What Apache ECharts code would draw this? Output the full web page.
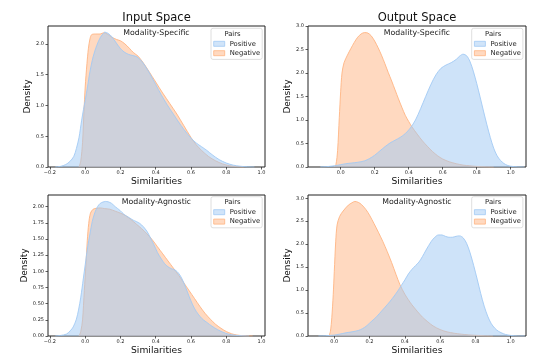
<!DOCTYPE html>
<html>
<head>
<meta charset="utf-8">
<script src="https://cdn.jsdelivr.net/npm/echarts@6/dist/echarts.min.js"></script>
<style>
html,body{margin:0;padding:0;background:#fff;}
#chart{width:535px;height:362px;}
</style>
</head>
<body>
<div id="chart"></div>
<script>
// ---- Data ----
const panelTitles = ['Input Space', 'Output Space'];
const rowLabels = ['Modality-Specific', 'Modality-Agnostic'];
const seriesNames = ['Positive', 'Negative'];
const legendTitle = 'Pairs';
const xName = 'Similarities';
const yName = 'Density';

const xTicksIn = [-0.2, 0, 0.2, 0.4, 0.6, 0.8, 1.0];
const xTicksOut = [0, 0.2, 0.4, 0.6, 0.8, 1.0];
const yTicksInSpec = [0, 0.5, 1.0, 1.5, 2.0];
const yTicksInAgn = [0, 0.25, 0.5, 0.75, 1.0, 1.25, 1.5, 1.75, 2.0];
const yTicksOut = [0, 0.5, 1.0, 1.5, 2.0, 2.5, 3.0];

// Input space, modality-specific
const inSpecPos = [[-0.17,0],[-0.14,0.01],[-0.11,0.04],[-0.087,0.09],[-0.065,0.17],[-0.05,0.3],[-0.035,0.48],[-0.02,0.76],[-0.01,0.93],[0.0,1.08],[0.013,1.3],[0.027,1.55],[0.045,1.79],[0.065,1.97],[0.085,2.1],[0.1,2.16],[0.112,2.19],[0.13,2.17],[0.15,2.12],[0.175,2.02],[0.198,1.93],[0.22,1.87],[0.245,1.83],[0.27,1.81],[0.293,1.79],[0.32,1.72],[0.345,1.62],[0.368,1.51],[0.4,1.34],[0.43,1.18],[0.463,1.02],[0.5,0.86],[0.53,0.73],[0.56,0.61],[0.6,0.47],[0.63,0.39],[0.66,0.33],[0.69,0.27],[0.72,0.2],[0.76,0.12],[0.8,0.065],[0.84,0.03],[0.88,0.012],[0.92,0.003],[0.96,0]];
const inSpecNeg = [[-0.035,0],[-0.025,0.1],[-0.015,0.4],[-0.007,0.9],[0.0,1.3],[0.01,1.68],[0.018,1.92],[0.027,2.08],[0.037,2.15],[0.06,2.16],[0.085,2.16],[0.105,2.18],[0.125,2.16],[0.15,2.11],[0.179,2.07],[0.2,2.05],[0.225,2.0],[0.25,1.93],[0.273,1.86],[0.3,1.8],[0.33,1.69],[0.36,1.56],[0.4,1.38],[0.44,1.2],[0.48,1.03],[0.52,0.86],[0.56,0.67],[0.6,0.48],[0.63,0.36],[0.66,0.27],[0.7,0.17],[0.74,0.1],[0.78,0.05],[0.82,0.02],[0.86,0.006],[0.9,0]];

// Output space, modality-specific
const outSpecPos = [[-0.12,0],[-0.08,0.008],[-0.05,0.02],[-0.02,0.035],[0.0,0.05],[0.03,0.07],[0.065,0.085],[0.1,0.1],[0.14,0.13],[0.17,0.18],[0.2,0.25],[0.23,0.34],[0.26,0.43],[0.29,0.51],[0.32,0.57],[0.35,0.63],[0.38,0.71],[0.41,0.83],[0.44,1.0],[0.47,1.24],[0.5,1.5],[0.53,1.75],[0.56,1.96],[0.59,2.1],[0.62,2.17],[0.65,2.22],[0.68,2.29],[0.7,2.36],[0.72,2.4],[0.74,2.37],[0.76,2.25],[0.78,2.04],[0.8,1.78],[0.82,1.49],[0.84,1.19],[0.86,0.9],[0.88,0.63],[0.9,0.4],[0.92,0.24],[0.94,0.14],[0.96,0.075],[0.98,0.036],[1.0,0.016],[1.04,0.003],[1.08,0]];
const outSpecNeg = [[-0.04,0],[-0.028,0.05],[-0.018,0.35],[-0.008,1.05],[0.0,1.6],[0.008,2.0],[0.02,2.22],[0.04,2.38],[0.06,2.52],[0.08,2.65],[0.1,2.76],[0.12,2.83],[0.14,2.86],[0.16,2.85],[0.18,2.79],[0.2,2.68],[0.22,2.54],[0.24,2.38],[0.26,2.2],[0.28,2.01],[0.3,1.83],[0.32,1.64],[0.34,1.45],[0.36,1.27],[0.38,1.1],[0.4,0.97],[0.42,0.85],[0.45,0.7],[0.48,0.56],[0.51,0.44],[0.54,0.33],[0.57,0.24],[0.6,0.17],[0.64,0.11],[0.68,0.07],[0.72,0.04],[0.76,0.025],[0.8,0.012],[0.85,0.004],[0.9,0]];

// Input space, modality-agnostic
const inAgnPos = [[-0.17,0],[-0.14,0.008],[-0.106,0.03],[-0.085,0.08],[-0.068,0.14],[-0.05,0.26],[-0.038,0.4],[-0.025,0.6],[-0.011,0.88],[0.0,1.1],[0.013,1.36],[0.027,1.58],[0.04,1.77],[0.055,1.91],[0.07,2.0],[0.085,2.05],[0.1,2.07],[0.115,2.08],[0.13,2.075],[0.15,2.05],[0.17,2.0],[0.198,1.94],[0.22,1.88],[0.25,1.83],[0.273,1.79],[0.29,1.77],[0.31,1.74],[0.33,1.69],[0.35,1.62],[0.368,1.53],[0.39,1.41],[0.41,1.29],[0.43,1.2],[0.45,1.12],[0.47,1.07],[0.49,1.04],[0.51,1.02],[0.53,0.97],[0.55,0.88],[0.57,0.75],[0.59,0.61],[0.61,0.48],[0.63,0.38],[0.652,0.3],[0.67,0.25],[0.69,0.21],[0.72,0.15],[0.75,0.1],[0.78,0.06],[0.81,0.03],[0.85,0.012],[0.89,0.003],[0.93,0]];
const inAgnNeg = [[-0.035,0],[-0.025,0.07],[-0.015,0.25],[-0.005,0.7],[0.004,1.1],[0.012,1.48],[0.02,1.74],[0.03,1.9],[0.045,1.96],[0.065,1.975],[0.085,1.98],[0.11,1.97],[0.14,1.96],[0.17,1.93],[0.2,1.9],[0.23,1.86],[0.26,1.8],[0.29,1.73],[0.32,1.66],[0.35,1.58],[0.38,1.49],[0.41,1.38],[0.44,1.27],[0.47,1.16],[0.5,1.05],[0.53,0.94],[0.56,0.82],[0.59,0.7],[0.62,0.58],[0.65,0.46],[0.68,0.35],[0.71,0.26],[0.74,0.18],[0.77,0.12],[0.8,0.07],[0.83,0.035],[0.86,0.015],[0.9,0.004],[0.95,0]];

// Output space, modality-agnostic
const outAgnPos = [[-0.09,0],[-0.05,0.006],[0.0,0.02],[0.03,0.04],[0.06,0.065],[0.1,0.09],[0.136,0.12],[0.16,0.16],[0.18,0.21],[0.2,0.28],[0.22,0.35],[0.24,0.42],[0.27,0.55],[0.3,0.68],[0.33,0.82],[0.36,0.98],[0.38,1.1],[0.4,1.22],[0.42,1.35],[0.44,1.45],[0.46,1.53],[0.48,1.61],[0.5,1.73],[0.52,1.87],[0.55,2.06],[0.57,2.15],[0.59,2.2],[0.61,2.2],[0.63,2.17],[0.65,2.15],[0.67,2.15],[0.69,2.17],[0.71,2.18],[0.73,2.14],[0.75,2.02],[0.77,1.81],[0.79,1.54],[0.81,1.24],[0.83,0.93],[0.85,0.65],[0.87,0.43],[0.89,0.27],[0.91,0.17],[0.93,0.105],[0.95,0.065],[0.97,0.035],[1.0,0.012],[1.04,0.002],[1.08,0]];
const outAgnNeg = [[-0.03,0],[-0.022,0.1],[-0.014,0.4],[-0.006,0.9],[0.0,1.4],[0.008,2.05],[0.016,2.42],[0.03,2.6],[0.05,2.72],[0.08,2.85],[0.1,2.9],[0.117,2.93],[0.136,2.91],[0.155,2.86],[0.18,2.75],[0.2,2.63],[0.225,2.45],[0.25,2.26],[0.275,2.06],[0.3,1.84],[0.325,1.6],[0.35,1.34],[0.372,1.12],[0.4,0.91],[0.42,0.79],[0.44,0.68],[0.47,0.54],[0.5,0.41],[0.53,0.31],[0.56,0.22],[0.6,0.14],[0.64,0.09],[0.68,0.06],[0.72,0.04],[0.76,0.025],[0.8,0.015],[0.85,0.005],[0.9,0]];

// ---- Layout / style ----
const FONT = 'DejaVu Sans';
const BLUE = '#a1c9f4', ORANGE = '#ffb482';
const panels = [
  {grid:{left:48, top:26, width:217, height:141}, xMin:-0.211, xMax:1.02, yMax:2.29, xTicks:xTicksIn, yTicks:yTicksInSpec, yDec:1, pos:inSpecPos, neg:inSpecNeg, title:panelTitles[0], sub:rowLabels[0], yGap:15, legend:[211,28.3]},
  {grid:{left:308, top:26, width:218, height:141}, xMin:-0.192, xMax:1.09, yMax:3.0, xTicks:xTicksOut, yTicks:yTicksOut, yDec:1, pos:outSpecPos, neg:outSpecNeg, title:panelTitles[1], sub:rowLabels[0], yGap:15, legend:[471.7,28.3]},
  {grid:{left:48, top:195, width:217, height:141}, xMin:-0.211, xMax:1.02, yMax:2.18, xTicks:xTicksIn, yTicks:yTicksInAgn, yDec:2, pos:inAgnPos, neg:inAgnNeg, title:null, sub:rowLabels[1], yGap:19, legend:[211,196.7]},
  {grid:{left:308, top:195, width:218, height:141}, xMin:-0.149, xMax:1.087, yMax:3.07, xTicks:xTicksOut, yTicks:yTicksOut, yDec:1, pos:outAgnPos, neg:outAgnNeg, title:null, sub:rowLabels[1], yGap:15, legend:[471.7,196.7]}
];

function fmt(v, d) {
  const s = Math.abs(v).toFixed(d);
  return v < -1e-9 ? '\u2212' + s : s;
}

const grids = [], xAxes = [], yAxes = [], series = [], legends = [], graphics = [];
panels.forEach((p, i) => {
  grids.push(Object.assign({show:true, borderColor:'#222', borderWidth:1, backgroundColor:'transparent', containLabel:false, outerBoundsMode:'none'}, p.grid));
  xAxes.push({
    type:'value', gridIndex:i, min:p.xMin, max:p.xMax,
    axisLine:{show:false, onZero:false},
    axisTick:{show:true, customValues:p.xTicks, length:2.5, lineStyle:{color:'#333', width:0.8}},
    axisLabel:{customValues:p.xTicks, formatter:v => fmt(v,1), fontSize:5, fontFamily:FONT, color:'#222', margin:3.5},
    splitLine:{show:false},
    name:xName, nameLocation:'middle', nameGap:10,
    nameTextStyle:{fontSize:9.2, fontFamily:FONT, color:'#111'}
  });
  yAxes.push({
    type:'value', gridIndex:i, min:0, max:p.yMax,
    axisLine:{show:false, onZero:false},
    axisTick:{show:true, customValues:p.yTicks, length:2.5, lineStyle:{color:'#333', width:0.8}},
    axisLabel:{customValues:p.yTicks, formatter:v => fmt(v,p.yDec), fontSize:5, fontFamily:FONT, color:'#222', margin:4},
    splitLine:{show:false},
    name:yName, nameLocation:'middle', nameGap:p.yGap, nameRotate:90,
    nameTextStyle:{fontSize:9, fontFamily:FONT, color:'#111'}
  });
  series.push({
    type:'line', name:seriesNames[1], xAxisIndex:i, yAxisIndex:i, data:p.neg,
    smooth:0.3, showSymbol:false, symbol:'none', silent:true,
    lineStyle:{color:ORANGE, width:0.9}, itemStyle:{color:ORANGE},
    areaStyle:{color:ORANGE, opacity:0.5}, z:2
  });
  series.push({
    type:'line', name:seriesNames[0], xAxisIndex:i, yAxisIndex:i, data:p.pos,
    smooth:0.3, showSymbol:false, symbol:'none', silent:true,
    lineStyle:{color:BLUE, width:0.9}, itemStyle:{color:BLUE},
    areaStyle:{color:BLUE, opacity:0.52}, z:3
  });
  legends.push({
    left:p.legend[0], top:p.legend[1], orient:'vertical', icon:'rect',
    itemWidth:11, itemHeight:5, itemGap:1.4, padding:[11.5, 2, 2.2, 2.3],
    selectedMode:false,
    textStyle:{fontSize:6.8, lineHeight:8, fontFamily:FONT, color:'#222'},
    backgroundColor:'rgba(255,255,255,0.8)', borderColor:'#d6d6d6', borderWidth:0.8, borderRadius:2,
    data:[
      {name:seriesNames[0], itemStyle:{color:'rgba(161,201,244,0.5)', borderColor:BLUE, borderWidth:0.8}},
      {name:seriesNames[1], itemStyle:{color:'rgba(255,180,130,0.5)', borderColor:ORANGE, borderWidth:0.8}}
    ]
  });
  const cx = p.grid.left + p.grid.width / 2;
  if (p.title) {
    graphics.push({type:'text', x:cx, y:p.grid.top - 8, z:100,
      style:{text:p.title, fontSize:11.5, fontFamily:FONT, fill:'#111', align:'center', verticalAlign:'middle'}});
  }
  graphics.push({type:'text', x:cx, y:p.grid.top + 7, z:100,
    style:{text:p.sub, fontSize:7.8, fontFamily:FONT, fill:'#222', align:'center', verticalAlign:'middle'}});
  graphics.push({type:'text', x:p.legend[0] + 21.5, y:p.legend[1] + 5.5, z:100,
    style:{text:legendTitle, fontSize:6.8, fontFamily:FONT, fill:'#222', align:'center', verticalAlign:'middle'}});
});

const chart = echarts.init(document.getElementById('chart'), null, {renderer:'canvas'});
chart.setOption({
  animation:false,
  backgroundColor:'#fff',
  grid:grids, xAxis:xAxes, yAxis:yAxes, series:series, legend:legends, graphic:graphics
});
</script>
</body>
</html>
